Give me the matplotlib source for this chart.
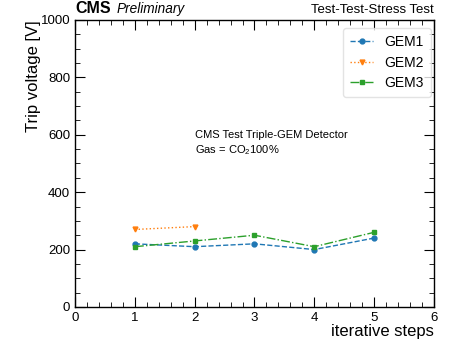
import matplotlib
matplotlib.use("Agg")
import matplotlib.pyplot as plt
from matplotlib.ticker import MultipleLocator, AutoMinorLocator

# data
steps1 = [1, 2, 3, 4, 5]
gem1 = [220, 210, 220, 200, 240]
steps2 = [1, 2]
gem2 = [270, 280]
steps3 = [1, 2, 3, 4, 5]
gem3 = [210, 230, 250, 210, 260]

plt.rcParams["font.family"] = ["Liberation Sans", "DejaVu Sans"]
plt.rcParams["mathtext.fontset"] = "custom"
plt.rcParams["mathtext.rm"] = "Liberation Sans"

fig = plt.figure(figsize=(4.5, 3.43), dpi=100)
ax = fig.add_axes([0.167, 0.105, 0.797, 0.837])

ax.plot(steps1, gem1, "o--", color="#1f77b4", ms=3.5, lw=1, label="GEM1")
ax.plot(steps2, gem2, "v:", color="#ff7f0e", ms=3.5, lw=1, label="GEM2")
ax.plot(steps3, gem3, "s-.", color="#2ca02c", ms=3.5, lw=1, label="GEM3")

ax.set_xlim(0, 6)
ax.set_ylim(0, 1000)
ax.xaxis.set_major_locator(MultipleLocator(1))
ax.xaxis.set_minor_locator(AutoMinorLocator(5))
ax.yaxis.set_major_locator(MultipleLocator(200))
ax.yaxis.set_minor_locator(AutoMinorLocator(4))
ax.tick_params(which="both", direction="in", top=True, right=True, labelsize=9.5)
ax.tick_params(which="major", length=7, width=0.8)
ax.tick_params(which="minor", length=3.5, width=0.6)
for s in ax.spines.values():
    s.set_linewidth(1.0)

ax.set_xlabel("iterative steps", fontsize=12, ha="right", x=1.0, labelpad=0)
ax.set_ylabel("Trip voltage [V]", fontsize=12, ha="right", y=1.0, labelpad=0)

ax.text(0.0, 1.012, "CMS", transform=ax.transAxes, fontsize=11.5,
        fontweight="bold", va="bottom")
ax.text(0.116, 1.012, "Preliminary", transform=ax.transAxes, fontsize=9.8,
        style="italic", va="bottom")
ax.text(1.0, 1.012, "Test-Test-Stress Test", transform=ax.transAxes,
        fontsize=9.5, ha="right", va="bottom")

ax.text(2.0, 570, "CMS Test Triple-GEM Detector\nGas = CO$_2$100%",
        fontsize=8, va="center", linespacing=1.3)

ax.legend(loc="upper right", bbox_to_anchor=(1.0, 0.98), fontsize=10,
          frameon=True, fancybox=True, edgecolor="#dddddd", handlelength=1.7,
          borderpad=0.5, labelspacing=0.45, borderaxespad=0.2)

fig.savefig("out.png", dpi=100)
